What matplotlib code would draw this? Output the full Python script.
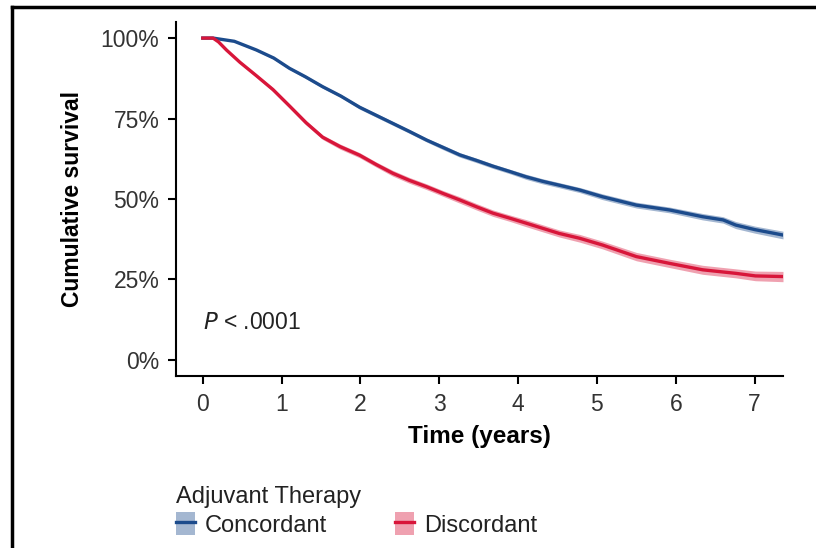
import numpy as np
import matplotlib
matplotlib.use("Agg")
import matplotlib.pyplot as plt
from matplotlib.patches import Patch
from matplotlib.lines import Line2D

plt.rcParams['font.family'] = ['Liberation Sans', 'DejaVu Sans']

# survival curves (time in years, survival fraction)
conc_t = [0, 0.13, 0.4, 0.68, 0.9, 1.10, 1.30, 1.52, 1.75, 1.99, 2.2, 2.41, 2.62, 2.84,
          3.05, 3.26, 3.47, 3.68, 3.9, 4.10, 4.31, 4.52, 4.78, 5.07, 5.50, 5.92, 6.34,
          6.60, 6.76, 7.0, 7.36]
conc_s = [1.0, 1.0, 0.99, 0.963, 0.938, 0.906, 0.88, 0.849, 0.82, 0.785, 0.76, 0.735,
          0.71, 0.683, 0.66, 0.637, 0.62, 0.602, 0.585, 0.569, 0.555, 0.543, 0.528,
          0.507, 0.481, 0.466, 0.445, 0.435, 0.419, 0.405, 0.388]
conc_ci = [0, 0, 0.002, 0.003, 0.004, 0.004, 0.005, 0.005, 0.005, 0.006, 0.006, 0.006,
           0.006, 0.006, 0.007, 0.007, 0.007, 0.007, 0.007, 0.008, 0.008, 0.008, 0.008,
           0.009, 0.009, 0.009, 0.010, 0.010, 0.011, 0.011, 0.012]

disc_t = [0, 0.13, 0.2, 0.3, 0.47, 0.68, 0.89, 1.10, 1.31, 1.52, 1.74, 1.99, 2.2, 2.41, 2.62,
          2.84, 3.05, 3.26, 3.47, 3.68, 3.9, 4.10, 4.31, 4.52, 4.78, 5.07, 5.50, 5.92,
          6.34, 6.76, 7.01, 7.36]
disc_s = [1.0, 1.0, 0.988, 0.963, 0.925, 0.883, 0.84, 0.789, 0.737, 0.692, 0.663, 0.636, 0.607,
          0.58, 0.558, 0.538, 0.517, 0.497, 0.476, 0.456, 0.44, 0.425, 0.409, 0.393,
          0.378, 0.357, 0.321, 0.300, 0.280, 0.269, 0.261, 0.259]
disc_ci = [0, 0, 0.002, 0.003, 0.004, 0.005, 0.006, 0.006, 0.007, 0.007, 0.008, 0.008, 0.008,
           0.009, 0.009, 0.009, 0.009, 0.010, 0.010, 0.010, 0.010, 0.011, 0.011, 0.011,
           0.012, 0.012, 0.013, 0.013, 0.014, 0.014, 0.015, 0.016]

blue = '#1c4b8c'
red = '#d8163a'

fig = plt.figure(figsize=(8.16, 5.48), dpi=100)
ax = fig.add_axes([176/816, 1-376/548, (783-176)/816, (376-22)/548])

for t, s, ci, col in [(conc_t, conc_s, conc_ci, blue), (disc_t, disc_s, disc_ci, red)]:
    t = np.array(t); s = np.array(s); ci = np.array(ci)
    ax.fill_between(t, s-ci, s+ci, color=col, alpha=0.4, lw=0)
    ax.plot(t, s, color=col, lw=2.4)

ax.set_xlim(-0.34, 7.36)
ax.set_ylim(-0.05, 1.05)
ax.set_xticks(range(0, 8))
ax.set_yticks([0, 0.25, 0.5, 0.75, 1.0])
ax.set_yticklabels(['0%', '25%', '50%', '75%', '100%'])
for sp in ['top', 'right']:
    ax.spines[sp].set_visible(False)
for sp in ['left', 'bottom']:
    ax.spines[sp].set_linewidth(1.5)
ax.tick_params(length=6, width=1.5, labelsize=16.5, pad=6)
ax.tick_params(colors='black', labelcolor='#333333')

ax.set_xlabel('Time (years)', fontsize=17.5, fontweight='bold', labelpad=7)
ax.set_ylabel('Cumulative survival', fontsize=16.5, fontweight='bold', labelpad=12)

ax.text(0.0, 0.115, r'$\it{P}$ < .0001', fontsize=16.5, color='#222222', va='center')

# legend
handles = [(Patch(facecolor=blue, alpha=0.4, lw=0), Line2D([], [], color=blue, lw=2.4)),
           (Patch(facecolor=red, alpha=0.4, lw=0), Line2D([], [], color=red, lw=2.4))]
leg = fig.legend(handles, ['Concordant', 'Discordant'], title='Adjuvant Therapy',
                 loc='upper left', bbox_to_anchor=(171/816, 1-481/548), ncol=2,
                 frameon=False, fontsize=17, title_fontsize=17, handlelength=0.8,
                 handleheight=1.1, handletextpad=0.45, columnspacing=2.85,
                 borderaxespad=0, borderpad=0.2, labelspacing=0.2)
leg._legend_box.align = 'left'
for txt in leg.get_texts():
    txt.set_color('#222222')
leg.get_title().set_color('#222222')

# border of the panel (left and top)
fig.add_artist(Line2D([12/816, 12/816], [0, 1-7/548], color='black', lw=2.5))
fig.add_artist(Line2D([12/816, 1], [1-7/548, 1-7/548], color='black', lw=2.5))

fig.savefig('out.png', dpi=100)
